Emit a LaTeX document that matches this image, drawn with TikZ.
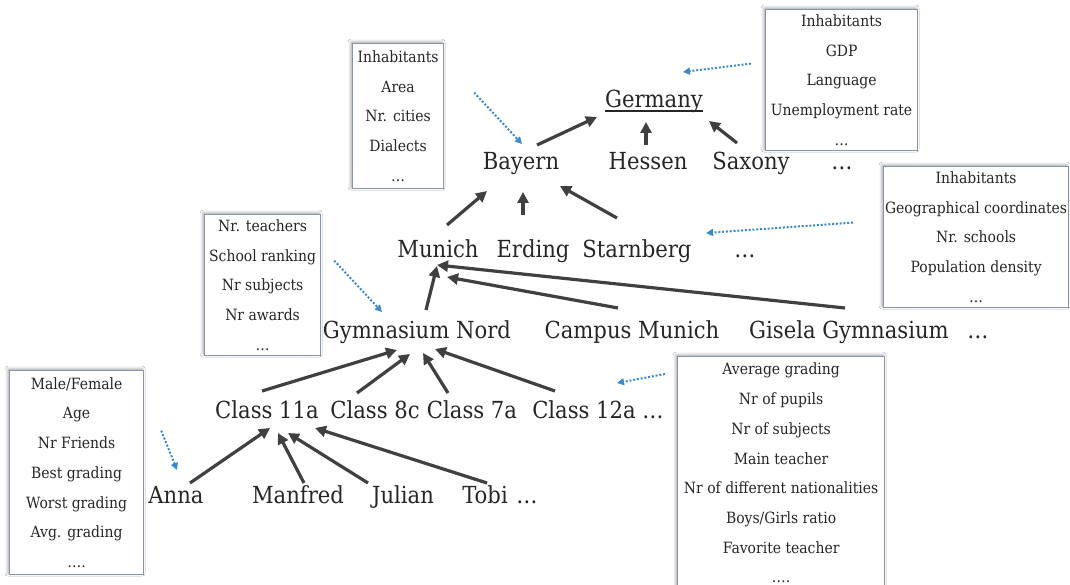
\documentclass[tikz,border=0pt]{standalone}
\usepackage{fontspec}
\setmainfont{DejaVu Serif}[FakeStretch=0.9]
\usetikzlibrary{arrows.meta,shadows.blur}
\definecolor{ink}{HTML}{262626}
\definecolor{arrowgray}{HTML}{404040}
\definecolor{linkblue}{HTML}{3A8AC9}
\definecolor{boxline}{HTML}{8A94A8}
% underline set close to the baseline, crossing the descenders
\newcommand{\tightul}[1]{\setbox0\hbox{#1}\rlap{\vrule width\wd0 height -2.4pt depth 3.6pt}\box0}

\begin{document}
\begin{tikzpicture}[x=1pt,y=-1pt,
  lbl/.style={anchor=base, inner sep=0pt, text=ink, font=\fontsize{23.5}{28}\selectfont},
  attrbox/.style={draw=boxline, line width=1.2pt, fill=white, anchor=north west,
    align=center, inner sep=0pt, text=ink, font=\fontsize{15.5}{29.7}\selectfont,
    blur shadow={shadow xshift=-1.5pt, shadow yshift=1.5pt, shadow blur radius=3pt, shadow opacity=40}},
  isa/.style={draw=arrowgray, line width=3.2pt, -{Triangle[length=11pt,width=11pt]}},
  attr/.style={draw=linkblue, line width=2pt, dash pattern=on 2pt off 1.8pt,
    -{Triangle[length=7pt,width=7pt]}},
]
\fill[white] (0,0) rectangle (1070,585);
\useasboundingbox (0,0) rectangle (1070,585);

% hierarchy levels
\node[lbl] (germany) at (654,108) {\tightul{Germany}};

\node[lbl] (bayern) at (521,170) {Bayern};
\node[lbl] (hessen) at (648,170) {Hessen};
\node[lbl] (saxony) at (751,170) {Saxony};
\node[lbl] (statesmore) at (842,170) {…};

\node[lbl] (munich) at (438,258) {Munich};
\node[lbl] (erding) at (533,258) {Erding};
\node[lbl] (starnberg) at (637,258) {Starnberg};
\node[lbl] (citiesmore) at (745,258) {…};

\node[lbl] (gymnord) at (417,338) {Gymnasium Nord};
\node[lbl] (campus) at (632,338) {Campus Munich};
\node[lbl] (gisela) at (849,338) {Gisela Gymnasium};
\node[lbl] (schoolsmore) at (978,338) {…};

\node[lbl] (c11a) at (267,418) {Class 11a};
\node[lbl] (c8c) at (375,418) {Class 8c};
\node[lbl] (c7a) at (472,418) {Class 7a};
\node[lbl] (c12a) at (584,418) {Class 12a};
\node[lbl] (classesmore) at (653,418) {…};

\node[lbl] (anna) at (176,503) {Anna};
\node[lbl] (manfred) at (298,503) {Manfred};
\node[lbl] (julian) at (403,503) {Julian};
\node[lbl] (tobi) at (485,503) {Tobi};
\node[lbl] (pupilsmore) at (527,503) {…};

% attribute boxes
\node[attrbox, minimum width=152, minimum height=141] (boxDE) at (765,9)
  {Inhabitants\\GDP\\Language\\Unemployment rate\\…};
\node[attrbox, minimum width=91, minimum height=145] (boxBY) at (352,43)
  {Inhabitants\\Area\\Nr. cities\\Dialects\\…};
\node[attrbox, minimum width=185, minimum height=141] (boxMUC) at (883,166)
  {Inhabitants\\Geographical coordinates\\Nr. schools\\Population density\\…};
\node[attrbox, minimum width=116, minimum height=141] (boxGYM) at (204,214)
  {Nr. teachers\\School ranking\\Nr subjects\\Nr awards\\…};
\node[attrbox, minimum width=134, minimum height=204] (boxPUP) at (9,370)
  {Male/Female\\Age\\Nr Friends\\Best grading\\Worst grading\\Avg. grading\\….};
\node[attrbox, minimum width=207, minimum height=233] (boxCLS) at (677,356)
  {Average grading\\Nr of pupils\\Nr of subjects\\Main teacher\\Nr of different nationalities\\Boys/Girls ratio\\Favorite teacher\\….};

% part-of arrows
\draw[isa] ([shift={(16,-25)}]bayern.base) -- ([shift={(-57,9)}]germany.base);
\draw[isa] ([shift={(-2,-25)}]hessen.base) -- ([shift={(-8,14)}]germany.base);
\draw[isa] ([shift={(-14,-27)}]saxony.base) -- ([shift={(55,13)}]germany.base);

\draw[isa] ([shift={(9,-33)}]munich.base) -- ([shift={(-34,21)}]bayern.base);
\draw[isa] ([shift={(-10,-43)}]erding.base) -- ([shift={(2,22)}]bayern.base);
\draw[isa] ([shift={(-20,-40)}]starnberg.base) -- ([shift={(39,16)}]bayern.base);

\draw[isa] ([shift={(9,-28)}]gymnord.base) -- ([shift={(-1,8)}]munich.base);
\draw[isa] ([shift={(-14,-30)}]campus.base) -- ([shift={(9,19)}]munich.base);
\draw[isa] ([shift={(-4,-30)}]gisela.base) -- ([shift={(-1,7)}]munich.base);

\draw[isa] ([shift={(-5,-27)}]c11a.base) -- ([shift={(-20,12)}]gymnord.base);
\draw[isa] ([shift={(-18,-25)}]c8c.base) -- ([shift={(-7,16)}]gymnord.base);
\draw[isa] ([shift={(-24,-25)}]c7a.base) -- ([shift={(6,15)}]gymnord.base);
\draw[isa] ([shift={(-29,-27)}]c12a.base) -- ([shift={(18,11)}]gymnord.base);

\draw[isa] ([shift={(14,-20)}]anna.base) -- ([shift={(3,10)}]c11a.base);
\draw[isa] ([shift={(6,-20)}]manfred.base) -- ([shift={(11,15)}]c11a.base);
\draw[isa] ([shift={(-35,-20)}]julian.base) -- ([shift={(21,15)}]c11a.base);
\draw[isa] ([shift={(2,-20)}]tobi.base) -- ([shift={(48,10)}]c11a.base);

% attribute links
\draw[attr] ([shift={(-14,-16.5)}]boxDE.west) -- ([shift={(29,-36)}]germany.base);
\draw[attr] ([shift={(30,-23.5)}]boxBY.east) -- ([shift={(1,-26)}]bayern.base);
\draw[attr] ([shift={(-30,-14.5)}]boxMUC.west) -- ([shift={(-39,-25)}]citiesmore.base);
\draw[attr] ([shift={(13,-24.5)}]boxGYM.east) -- ([shift={(-35,-26)}]gymnord.base);
\draw[attr] ([shift={(-12,18)}]boxCLS.north west) -- ([shift={(33,-35)}]c12a.base);
\draw[attr] ([shift={(17,-42)}]boxPUP.east) -- ([shift={(1,-33)}]anna.base);
\end{tikzpicture}
\end{document}
